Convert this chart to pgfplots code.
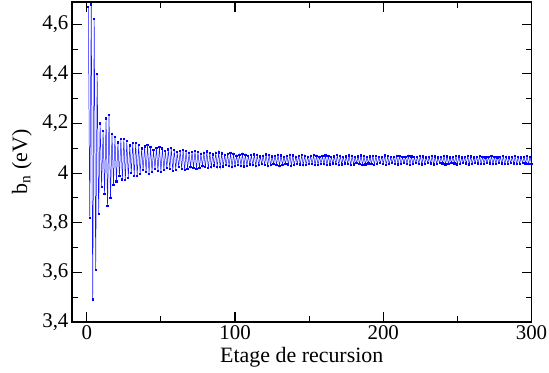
\documentclass[border=0pt]{standalone}
\usepackage{pgfplots}
\pgfplotsset{compat=1.18}
\usepackage{fontspec}
\setmainfont{Liberation Serif}
\begin{document}
\begin{tikzpicture}
\begin{axis}[
  scale only axis,
  width=459.7bp, height=320bp,
  xmin=-10, xmax=300, ymin=3.4, ymax=4.69,
  xtick={0,100,200,300}, minor xtick={50,150,250},
  ytick={3.4,3.6,3.8,4,4.2,4.4,4.6}, minor ytick={3.5,3.7,3.9,4.1,4.3,4.5},
  tick align=inside,
  major tick length=10bp, minor tick length=6bp,
  every tick/.style={black, line width=1.1pt},
  axis line style={line width=1.3pt},
  /pgf/number format/assume math mode=true,
  /pgf/number format/use comma,
  yticklabel style={/pgf/number format/fixed, /pgf/number format/precision=1, xshift=0bp},
  tick label style={font=\rmfamily\fontsize{21}{24}\selectfont},
  label style={font=\rmfamily\fontsize{22}{25}\selectfont},
  xlabel={Etage de recursion},
  ylabel={b\textsubscript{n} (eV)},
  xlabel style={at={(axis description cs:0.5,0)}, anchor=base, yshift=-41bp},
  ylabel style={at={(axis description cs:-0.109,0.5)}, anchor=center},
]
\addplot[color={rgb,255:red,20;green,20;blue,255}, line width=0.5pt, mark=square*, mark size=0.6pt, mark options={blue, line width=0pt}] table {
1 4.67
2 3.82
3 4.68
4 3.49
5 4.62
6 3.61
7 4.40
8 3.835
9 4.20
10 3.945
11 4.17
12 3.915
13 4.22
14 3.866
15 4.235
16 3.898
17 4.157
18 3.953
19 4.144
20 3.966
21 4.123
22 3.987
23 4.136
24 3.974
25 4.139
26 3.971
27 4.129
28 3.981
29 4.111
30 3.999
31 4.122
32 3.989
33 4.121
34 3.989
35 4.113
36 3.997
37 4.099
38 4.011
39 4.107
40 4.003
41 4.113
42 3.997
43 4.105
44 4.005
45 4.093
46 4.017
47 4.101
48 4.009
49 4.105
50 4.005
51 4.099
52 4.011
53 4.089
54 4.021
55 4.095
56 4.015
57 4.100
58 4.008
59 4.094
60 4.014
61 4.084
62 4.024
63 4.090
64 4.018
65 4.094
66 4.012
67 4.089
68 4.017
69 4.080
70 4.026
71 4.085
72 4.021
73 4.090
74 4.016
75 4.086
76 4.020
77 4.078
78 4.028
79 4.082
80 4.024
81 4.087
82 4.019
83 4.082
84 4.024
85 4.075
86 4.031
87 4.080
88 4.026
89 4.083
90 4.023
91 4.079
92 4.027
93 4.073
94 4.033
95 4.077
96 4.029
97 4.080
98 4.024
99 4.076
100 4.028
101 4.070
102 4.034
103 4.074
104 4.030
105 4.077
106 4.027
107 4.074
108 4.030
109 4.069
110 4.035
111 4.072
112 4.032
113 4.075
114 4.029
115 4.072
116 4.032
117 4.067
118 4.037
119 4.070
120 4.034
121 4.075
122 4.029
123 4.072
124 4.032
125 4.067
126 4.037
127 4.070
128 4.034
129 4.074
130 4.030
131 4.071
132 4.033
133 4.066
134 4.038
135 4.069
136 4.035
137 4.074
138 4.030
139 4.071
140 4.033
141 4.066
142 4.038
143 4.069
144 4.035
145 4.072
146 4.032
147 4.070
148 4.034
149 4.066
150 4.038
151 4.068
152 4.036
153 4.072
154 4.032
155 4.070
156 4.034
157 4.066
158 4.038
159 4.068
160 4.036
161 4.071
162 4.033
163 4.069
164 4.035
165 4.065
166 4.039
167 4.067
168 4.037
169 4.072
170 4.033
171 4.069
172 4.035
173 4.065
174 4.039
175 4.067
176 4.037
177 4.071
178 4.032
179 4.069
180 4.035
181 4.065
182 4.040
183 4.067
184 4.037
185 4.071
186 4.033
187 4.068
188 4.035
189 4.065
190 4.039
191 4.067
192 4.037
193 4.070
194 4.034
195 4.068
196 4.036
197 4.064
198 4.040
199 4.066
200 4.038
201 4.071
202 4.034
203 4.068
204 4.036
205 4.064
206 4.040
207 4.066
208 4.038
209 4.070
210 4.035
211 4.068
212 4.036
213 4.064
214 4.040
215 4.066
216 4.038
217 4.070
218 4.034
219 4.067
220 4.036
221 4.064
222 4.040
223 4.066
224 4.038
225 4.069
226 4.035
227 4.067
228 4.037
229 4.063
230 4.041
231 4.065
232 4.039
233 4.069
234 4.035
235 4.067
236 4.037
237 4.063
238 4.041
239 4.065
240 4.039
241 4.070
242 4.035
243 4.067
244 4.037
245 4.063
246 4.041
247 4.065
248 4.039
249 4.069
250 4.035
251 4.067
252 4.038
253 4.063
254 4.041
255 4.065
256 4.039
257 4.069
258 4.035
259 4.067
260 4.037
261 4.063
262 4.041
263 4.065
264 4.039
265 4.068
266 4.036
267 4.066
268 4.038
269 4.063
270 4.041
271 4.065
272 4.039
273 4.068
274 4.036
275 4.066
276 4.038
277 4.063
278 4.041
279 4.065
280 4.039
281 4.068
282 4.036
283 4.066
284 4.038
285 4.063
286 4.041
287 4.065
288 4.039
289 4.068
290 4.036
291 4.066
292 4.038
293 4.063
294 4.041
295 4.065
296 4.039
297 4.068
298 4.036
299 4.066
300 4.038
};
\end{axis}
\pgfresetboundingbox
\path (current axis.south west) ++(-72bp,-51bp) coordinate (bbA);
\path (current axis.north east) ++(17.5bp,2bp) coordinate (bbB);
\path (bbA) rectangle (bbB);
\end{tikzpicture}
\end{document}
